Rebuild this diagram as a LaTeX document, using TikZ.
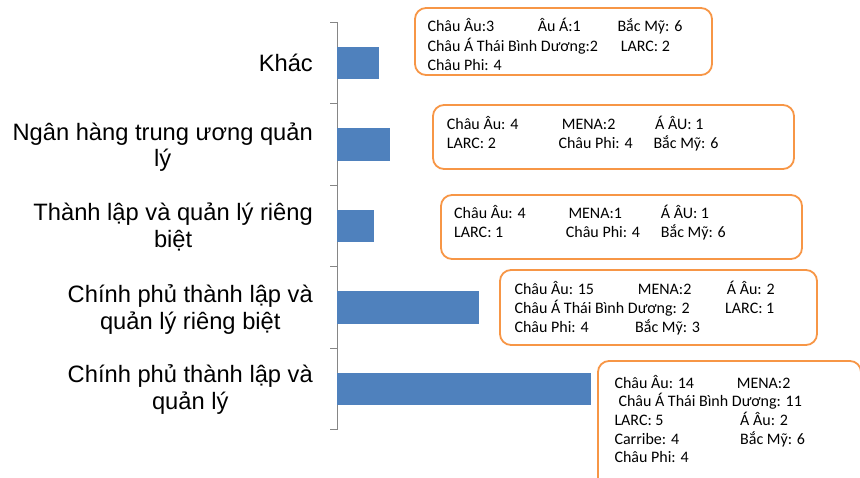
\documentclass[tikz,border=0pt]{standalone}
\usepackage{fontspec}
\setmainfont{Carlito}
\newfontfamily\catfont{Liberation Sans}
\usetikzlibrary{positioning}
\definecolor{barblue}{HTML}{4F81BD}
\definecolor{boxorange}{HTML}{F79646}
\definecolor{axisgray}{HTML}{868686}
\tikzstyle{bar} = [fill=barblue]
\tikzstyle{callout} = [draw=boxorange, line width=1.8pt, rounded corners=11pt]
\tikzstyle{axis} = [draw=axisgray, line width=0.9pt]
\tikzstyle{entry} = [anchor=base west, inner sep=0pt, font=\fontsize{16}{19}\selectfont]
\tikzstyle{category} = [anchor=base east, align=center, inner sep=0pt, font=\catfont\fontsize{23.7}{26.7}\selectfont]

\begin{document}
\begin{tikzpicture}[x=1pt, y=-1pt]
	\useasboundingbox (0,0) rectangle (860,477);
	\clip (0,0) rectangle (860,477);

	% axis and ticks
	\draw[axis] (337,22) -- (337,429.5);
	\foreach \t in {0,...,5}
		\draw[axis] (330,{22+81.5*\t}) -- (337,{22+81.5*\t});

	% bars
	\fill[bar] (337,46.5) rectangle (379,79.1);
	\fill[bar] (337,128) rectangle (390,160.5);
	\fill[bar] (337,209.5) rectangle (374,242);
	\fill[bar] (337,291) rectangle (479,323.5);
	\fill[bar] (337,372.5) rectangle (591,405);

	% categories (base = last line)
	\node[category] (khac) at (313,71.7) {Khác};
	\node[category] (nganhang) at (313,166.7) {Ngân hàng trung ương quản\\lý};
	\node[category] (thanhlap) at (313,247.5) {Thành lập và quản lý riêng\\biệt};
	\node[category] (cprieng) at (313,329.3) {Chính phủ thành lập và\\quản lý riêng biệt};
	\node[category] (cp) at (313,409.5) {Chính phủ thành lập và\\quản lý};

	% callout boxes
	\draw[callout] (415,8) rectangle (712,75);
	\draw[callout] (433,105) rectangle (794,169);
	\draw[callout] (441,195) rectangle (802,259);
	\draw[callout] (500,270) rectangle (817,345);
	\draw[callout] (598,361) rectangle (861,492);

	% box 1
	\node[entry] (k1) at (427.3,31.7) {Châu Âu:3};
	\node[entry] (k2) at (537.7,31.7) {Âu Á:1};
	\node[entry] (k3) at (617.3,31.7) {Bắc Mỹ: 6};
	\node[entry] (k4) at (427.3,51) {Châu Á Thái Bình Dương:2};
	\node[entry] (k5) at (620.7,51) {LARC: 2};
	\node[entry] (k6) at (427.3,70.3) {Châu Phi: 4};

	% box 2
	\node[entry] (n1) at (446.7,129) {Châu Âu: 4};
	\node[entry] (n2) at (561.7,129) {MENA:2};
	\node[entry] (n3) at (655,129) {Á ÂU: 1};
	\node[entry] (n4) at (446.7,148) {LARC: 2};
	\node[entry] (n5) at (558.3,148) {Châu Phi: 4};
	\node[entry] (n6) at (653.3,148) {Bắc Mỹ: 6};

	% box 3
	\node[entry] (t1) at (454,218.3) {Châu Âu: 4};
	\node[entry] (t2) at (568.3,218.3) {MENA:1};
	\node[entry] (t3) at (660.7,218.3) {Á ÂU: 1};
	\node[entry] (t4) at (454,237.3) {LARC: 1};
	\node[entry] (t5) at (565.7,237.3) {Châu Phi: 4};
	\node[entry] (t6) at (660.7,237.3) {Bắc Mỹ: 6};

	% box 4
	\node[entry] (r1) at (514.3,294.3) {Châu Âu: 15};
	\node[entry] (r2) at (637.7,294.3) {MENA:2};
	\node[entry] (r3) at (726.7,294.3) {Á Âu: 2};
	\node[entry] (r4) at (514.3,313.3) {Châu Á Thái Bình Dương: 2};
	\node[entry] (r5) at (725,313.3) {LARC: 1};
	\node[entry] (r6) at (514.3,332.7) {Châu Phi: 4};
	\node[entry] (r7) at (635,332.7) {Bắc Mỹ: 3};

	% box 5
	\node[entry] (c1) at (614.3,388.3) {Châu Âu: 14};
	\node[entry] (c2) at (736.7,388.3) {MENA:2};
	\node[entry] (c3) at (618.3,406.7) {Châu Á Thái Bình Dương: 11};
	\node[entry] (c4) at (614.3,425.7) {LARC: 5};
	\node[entry] (c5) at (740,425.7) {Á Âu: 2};
	\node[entry] (c6) at (614.3,444.3) {Carribe: 4};
	\node[entry] (c7) at (740,444.3) {Bắc Mỹ: 6};
	\node[entry] (c8) at (614.3,462.7) {Châu Phi: 4};
\end{tikzpicture}
\end{document}
